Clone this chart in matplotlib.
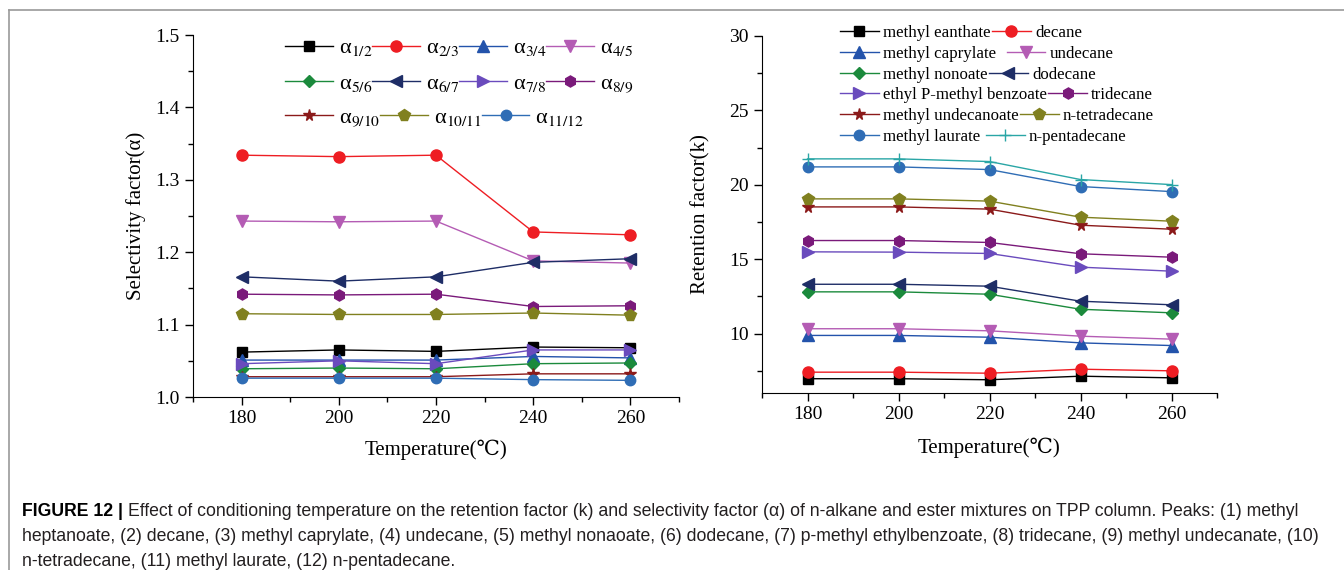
import matplotlib
matplotlib.use("Agg")
import matplotlib.pyplot as plt
from matplotlib.lines import Line2D
from matplotlib.ticker import MultipleLocator

# ---------------- data ----------------
temps = [180, 200, 220, 240, 260]

alpha_labels = ["1/2", "2/3", "3/4", "4/5", "5/6", "6/7", "7/8", "8/9",
                "9/10", "10/11", "11/12"]
a_1_2 = [1.062, 1.065, 1.063, 1.069, 1.068]
a_2_3 = [1.334, 1.332, 1.334, 1.228, 1.224]
a_3_4 = [1.051, 1.051, 1.051, 1.056, 1.054]
a_4_5 = [1.243, 1.242, 1.243, 1.188, 1.185]
a_5_6 = [1.039, 1.040, 1.039, 1.046, 1.047]
a_6_7 = [1.166, 1.160, 1.166, 1.186, 1.191]
a_7_8 = [1.046, 1.050, 1.046, 1.065, 1.065]
a_8_9 = [1.142, 1.141, 1.142, 1.125, 1.126]
a_9_10 = [1.028, 1.028, 1.028, 1.032, 1.032]
a_10_11 = [1.115, 1.114, 1.114, 1.116, 1.113]
a_11_12 = [1.026, 1.026, 1.026, 1.024, 1.023]
alpha_series = [a_1_2, a_2_3, a_3_4, a_4_5, a_5_6, a_6_7, a_7_8, a_8_9,
                a_9_10, a_10_11, a_11_12]

k_labels = ["methyl eanthate", "decane", "methyl caprylate", "undecane",
            "methyl nonoate", "dodecane", "ethyl P-methyl benzoate", "tridecane",
            "methyl undecanoate", "n-tetradecane", "methyl laurate", "n-pentadecane"]
k_methyl_eanthate = [6.96, 6.96, 6.89, 7.13, 7.02]
k_decane = [7.40, 7.40, 7.33, 7.60, 7.49]
k_methyl_caprylate = [9.87, 9.87, 9.75, 9.37, 9.19]
k_undecane = [10.32, 10.32, 10.18, 9.82, 9.62]
k_methyl_nonoate = [12.80, 12.80, 12.64, 11.63, 11.39]
k_dodecane = [13.31, 13.31, 13.18, 12.17, 11.93]
k_ethyl_pmb = [15.49, 15.47, 15.38, 14.46, 14.19]
k_tridecane = [16.25, 16.25, 16.12, 15.36, 15.13]
k_methyl_undecanoate = [18.51, 18.51, 18.36, 17.28, 17.01]
k_tetradecane = [19.05, 19.05, 18.90, 17.82, 17.55]
k_methyl_laurate = [21.20, 21.20, 21.02, 19.88, 19.54]
k_pentadecane = [21.74, 21.74, 21.56, 20.35, 20.01]
k_series = [k_methyl_eanthate, k_decane, k_methyl_caprylate, k_undecane,
            k_methyl_nonoate, k_dodecane, k_ethyl_pmb, k_tridecane,
            k_methyl_undecanoate, k_tetradecane, k_methyl_laurate, k_pentadecane]

caption_bold = "FIGURE 12 | "
caption_l1 = ("Effect of conditioning temperature on the retention factor (k) and selectivity "
              "factor (\u03b1) of n-alkane and ester mixtures on TPP column. Peaks: (1) methyl")
caption_l2 = ("heptanoate, (2) decane, (3) methyl caprylate, (4) undecane, (5) methyl nonaoate, "
              "(6) dodecane, (7) p-methyl ethylbenzoate, (8) tridecane, (9) methyl undecanate, (10)")
caption_l3 = "n-tetradecane, (11) methyl laurate, (12) n-pentadecane."

# ---------------- styles ----------------
colors = ["#000000", "#ee1d23", "#2353ab", "#b45cb4", "#1b8a3c", "#1e2d66",
          "#6a4bbd", "#7a1a7a", "#8b1a1a", "#80801f", "#2f6db5", "#2aa6a6"]
markers = ["s", "o", "^", "v", "D", "<", ">", "h", "*", "p", "o", "+"]
msizes = [7, 8, 8, 8, 6.5, 8, 8, 8, 8.5, 8.5, 7.5, 9]

plt.rcParams["font.family"] = ["Liberation Serif", "DejaVu Serif", "DejaVu Sans"]
plt.rcParams["mathtext.fontset"] = "stix"

W, H = 1344, 570
fig = plt.figure(figsize=(W / 100, H / 100), dpi=100)

def fx(px):
    return px / W

def fy(py):
    return 1 - py / H

axL = fig.add_axes([fx(193), fy(397), fx(679) - fx(193), fy(35) - fy(397)])
axR = fig.add_axes([fx(762), fy(393), fx(1217) - fx(762), fy(36) - fy(393)])

# left panel
for i, ys in enumerate(alpha_series):
    axL.plot(temps, ys, color=colors[i], marker=markers[i], markersize=msizes[i],
             linewidth=1.0, label="\u03b1$_{%s}$" % alpha_labels[i])
axL.set_xlim(170, 270)
axL.set_ylim(1.0, 1.5)
axL.yaxis.set_major_locator(MultipleLocator(0.1))
axL.yaxis.set_minor_locator(MultipleLocator(0.05))
axL.set_ylabel("Selectivity factor(\u03b1)", fontsize=15)
axL.yaxis.set_label_coords(-0.097, 0.5)
axL.set_xlabel("Temperature(\u2103)", fontsize=15)
axL.xaxis.set_label_coords(0.5, -0.119)

# right panel
for i, ys in enumerate(k_series):
    axR.plot(temps, ys, color=colors[i], marker=markers[i], markersize=msizes[i],
             linewidth=1.0, label=k_labels[i])
axR.set_xlim(170, 270)
axR.set_ylim(6, 30)
axR.yaxis.set_major_locator(MultipleLocator(5))
axR.yaxis.set_minor_locator(MultipleLocator(2.5))
axR.set_ylabel("Retention factor(k)", fontsize=15)
axR.yaxis.set_label_coords(-0.114, 0.5)
axR.set_xlabel("Temperature(\u2103)", fontsize=15)
axR.xaxis.set_label_coords(0.5, -0.126)

for ax in (axL, axR):
    ax.spines["top"].set_visible(False)
    ax.spines["right"].set_visible(False)
    ax.xaxis.set_major_locator(MultipleLocator(20))
    ax.xaxis.set_minor_locator(MultipleLocator(10))
    ax.tick_params(which="major", direction="out", length=6, width=1, labelsize=14)
    ax.tick_params(which="minor", direction="out", length=3.5, width=1)

# legends: one legend per row, so entries flow after each label
hL, lL = axL.get_legend_handles_labels()
left_rows = [[0, 1, 2, 3], [4, 5, 6, 7], [8, 9, 10]]
left_row_y = [48, 84, 118]
for idx, yy in zip(left_rows, left_row_y):
    fig.legend([hL[i] for i in idx], [lL[i] for i in idx], loc="center left",
               bbox_to_anchor=(fx(285), fy(yy)), ncol=len(idx), frameon=False,
               fontsize=16, handlelength=2.15, handletextpad=0.27, columnspacing=0.0,
               borderpad=0, borderaxespad=0)

hR, lR = axR.get_legend_handles_labels()
right_row_y = [33, 54, 75, 95, 116, 137]
right_gaps = [0.05, 0.6, 0.05, 0.05, 0.05, 0.3]
for r, (yy, gap) in enumerate(zip(right_row_y, right_gaps)):
    idx = [2 * r, 2 * r + 1]
    fig.legend([hR[i] for i in idx], [lR[i] for i in idx], loc="center left",
               bbox_to_anchor=(fx(840), fy(yy)), ncol=2, frameon=False,
               fontsize=12.2, handlelength=2.3, handletextpad=0.25,
               columnspacing=gap, borderpad=0, borderaxespad=0)

# frame lines
fig.add_artist(Line2D([fx(9), fx(9)], [fy(10), 0], transform=fig.transFigure,
                      color="#9a9a9a", linewidth=1.2))
fig.add_artist(Line2D([fx(9), 1], [fy(10), fy(10)], transform=fig.transFigure,
                      color="#9a9a9a", linewidth=1.2))

# caption
cap_kw = dict(family=["Liberation Sans", "DejaVu Sans"], fontsize=12.7, va="baseline")
tb = fig.text(fx(22), fy(516), caption_bold, fontweight="bold", color="#000000", **cap_kw)
fig.canvas.draw()
bb = tb.get_window_extent()
fig.text(bb.x1 / W, fy(516), caption_l1, color="#231f20", **cap_kw)
fig.text(fx(22), fy(541), caption_l2, color="#231f20", **cap_kw)
fig.text(fx(22), fy(566), caption_l3, color="#231f20", **cap_kw)

fig.savefig("out.png", dpi=100)
